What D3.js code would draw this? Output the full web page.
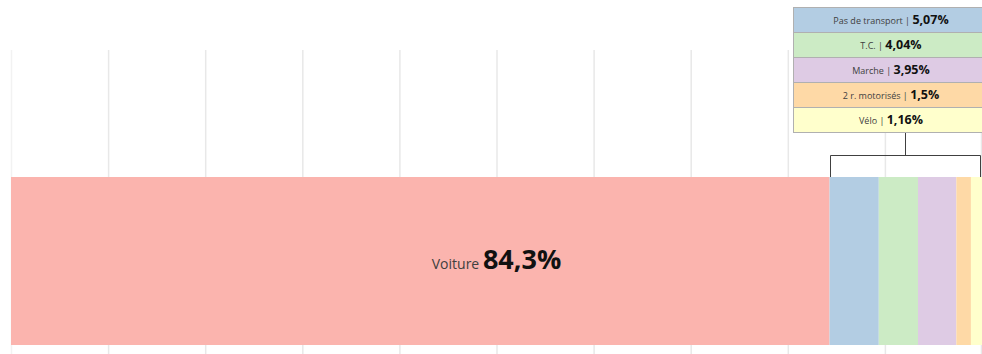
<!DOCTYPE html>
<html>
<head>
<meta charset="utf-8">
<script src="https://cdn.jsdelivr.net/npm/d3@7"></script>
<style>
  html, body { margin: 0; padding: 0; background: #fff; }
  svg { display: block; font-family: "Open Sans", "Liberation Sans", sans-serif; }
</style>
</head>
<body>
<svg id="chart" width="982" height="354"></svg>
<script>
// Modal share of commuting trips (%)
const categories = ["Voiture", "Pas de transport", "T.C.", "Marche", "2 r. motorisés", "Vélo"];
const shares = [84.3, 5.07, 4.04, 3.95, 1.5, 1.16];
const valueLabels = ["84,3%", "5,07%", "4,04%", "3,95%", "1,5%", "1,16%"];
const colors = ["#fbb4ae", "#b3cde3", "#ccebc5", "#decbe4", "#fed9a6", "#ffffcc"];
const gridTicks = [0, 10, 20, 30, 40, 50, 60, 70, 80, 90, 100];

const svg = d3.select("#chart");
const W = 982, H = 354;

const x = d3.scaleLinear().domain([0, 100]).range([11, 982]);
const y = d3.scaleBand().domain(["mode"]).range([177, 345]).padding(0);

// stacked segments
let acc = 0;
const segs = categories.map((c, i) => {
  const s = { cat: c, v: shares[i], x0: acc, x1: acc + shares[i], label: valueLabels[i], color: colors[i], i };
  acc += shares[i];
  return s;
});

// vertical gridlines
svg.append("g").selectAll("line").data(gridTicks).join("line")
  .attr("x1", d => Math.min(x(d), W - 1) + 0.5)
  .attr("x2", d => Math.min(x(d), W - 1) + 0.5)
  .attr("y1", 50).attr("y2", H)
  .attr("stroke", d => d === 0 ? "#f2f2f2" : "#e8e8e8")
  .attr("stroke-width", 1.5);

// bars
svg.append("g").selectAll("rect").data(segs).join("rect")
  .attr("x", d => x(d.x0))
  .attr("width", d => x(d.x1) - x(d.x0))
  .attr("y", y("mode"))
  .attr("height", y.bandwidth())
  .attr("fill", d => d.color);

// main label, centred on the plot
const main = segs[0];
const mainText = svg.append("text")
  .attr("x", x(50)).attr("y", y("mode") + y.bandwidth() / 2 + 8)
  .attr("text-anchor", "middle");
mainText.append("tspan").text(main.cat + " ").attr("font-size", 14).attr("fill", "#404040");
mainText.append("tspan").text(main.label).attr("font-size", 27).attr("font-weight", "bold").attr("fill", "#111");

// callout boxes for the minor modes
const minor = segs.slice(1);
const boxX = 793, boxW = 189, boxTop = 7, boxH = 25;
const boxes = svg.append("g").selectAll("g").data(minor).join("g")
  .attr("transform", (d, i) => `translate(${boxX},${boxTop + i * boxH})`);
boxes.append("rect")
  .attr("x", 0.5).attr("y", 0.5)
  .attr("width", boxW).attr("height", boxH)
  .attr("fill", d => d.color)
  .attr("stroke", "#b0b0b0").attr("stroke-width", 1);
const bt = boxes.append("text")
  .attr("x", 98).attr("y", boxH / 2 + 4.5)
  .attr("text-anchor", "middle");
bt.append("tspan").text(d => d.cat + " | ").attr("font-size", 9).attr("fill", "#404040");
bt.append("tspan").text(d => d.label).attr("font-size", 12.5).attr("font-weight", "bold").attr("fill", "#111");

// bracket linking the boxes to the minor segments
const bx0 = x(minor[0].x0), bx1 = x(100) - 2;
const bracketY = 155, barTop = y("mode");
const boxBottom = boxTop + minor.length * boxH + 1;
const mid = (bx0 + bx1) / 2;
const bracket = svg.append("g").attr("stroke", "#404040").attr("stroke-width", 1).attr("fill", "none");
bracket.append("path")
  .attr("d", `M${Math.round(bx0) + 0.5},${barTop} V${bracketY + 0.5} H${Math.round(bx1) + 0.5} V${barTop}`);
bracket.append("line")
  .attr("x1", Math.round(mid) + 0.5).attr("x2", Math.round(mid) + 0.5)
  .attr("y1", boxBottom).attr("y2", bracketY);
</script>
</body>
</html>
